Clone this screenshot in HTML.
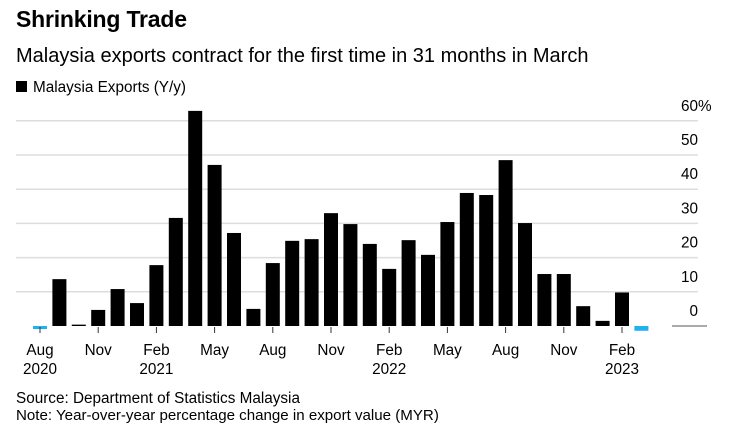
<!DOCTYPE html>
<html><head><meta charset="utf-8"><style>
body{margin:0;background:#fff;font-family:"Liberation Sans",sans-serif;}
#wrap{position:relative;width:737px;height:436px;overflow:hidden;}
.t{position:absolute;white-space:nowrap;color:#000;}
</style></head><body>
<div id="wrap">
<div class="t" style="left:16px;top:6px;font-size:23px;font-weight:bold;letter-spacing:-0.2px">Shrinking Trade</div>
<div class="t" style="left:16px;top:45px;font-size:20px">Malaysia exports contract for the first time in 31 months in March</div>
<div class="t" style="left:16px;top:79px;font-size:15.3px"><span style="display:inline-block;width:11px;height:11px;background:#000;margin-right:6px"></span>Malaysia Exports (Y/y)</div>
<svg id="chart" width="737" height="436" style="position:absolute;left:0;top:0"></svg>
<div class="t" style="left:16px;top:390px;font-size:15.3px">Source: Department of Statistics Malaysia</div>
<div class="t" style="left:16px;top:407px;font-size:15.1px">Note: Year-over-year percentage change in export value (MYR)</div>
</div>
<script>
const months=["Aug 2020","Sep 2020","Oct 2020","Nov 2020","Dec 2020","Jan 2021","Feb 2021","Mar 2021","Apr 2021","May 2021","Jun 2021","Jul 2021","Aug 2021","Sep 2021","Oct 2021","Nov 2021","Dec 2021","Jan 2022","Feb 2022","Mar 2022","Apr 2022","May 2022","Jun 2022","Jul 2022","Aug 2022","Sep 2022","Oct 2022","Nov 2022","Dec 2022","Jan 2023","Feb 2023","Mar 2023"];
const values=[-0.8,13.7,0.4,4.7,10.8,6.7,17.8,31.6,62.9,47.1,27.2,5,18.4,24.9,25.4,33,29.8,24,16.7,25.1,20.8,30.4,38.9,38.3,48.5,30.1,15.2,15.2,5.8,1.5,9.8,-1.4];
const yTicks=[0,10,20,30,40,50,60];
const xLabels=[[0,"Aug","2020"],[3,"Nov",""],[6,"Feb","2021"],[9,"May",""],[12,"Aug",""],[15,"Nov",""],[18,"Feb","2022"],[21,"May",""],[24,"Aug",""],[27,"Nov",""],[30,"Feb","2023"]];
const svg=document.getElementById('chart');const NS="http://www.w3.org/2000/svg";
const y=v=>326-v*3.42;const x=i=>40+i*19.4;
function mk(t,a){const e=document.createElementNS(NS,t);for(const k in a)e.setAttribute(k,a[k]);svg.appendChild(e);return e;}
yTicks.forEach(v=>{
 if(v>0){const l=mk('line',{x1:16,x2:698,y1:y(v),y2:y(v),stroke:'#ddd','stroke-width':1.5});
 
 }
 const t=mk('text',{x:698,y:y(v)-10,'font-size':15.3,'text-anchor':'end','font-family':'Liberation Sans, sans-serif'});
 t.textContent=v;
 
 
 if(v===60){const p=mk('text',{x:698,y:y(v)-10,'font-size':15.3,'font-family':'Liberation Sans, sans-serif'});
 p.textContent='%';
 
 }
});
const zl=mk('line',{x1:672,x2:707,y1:326,y2:326,stroke:'#555','stroke-width':1});


values.forEach((v,i)=>{
 const r=mk('rect',{x:x(i)-7,width:14,y:v>=0?y(v):326,height:Math.max(Math.abs(y(v)-326),v>=0?1:3),fill:v>=0?'#000':'#1fb1f0'});
 
 
});
xLabels.forEach(([i,m,yr])=>{
 const tk=mk('line',{x1:x(i),x2:x(i),y1:327,y2:333,stroke:'#333','stroke-width':1});
 
 
 const t=mk('text',{x:x(i),y:355,'font-size':15.3,'text-anchor':'middle','font-family':'Liberation Sans, sans-serif'});
 t.textContent=m;
 
 
 if(yr){const t2=mk('text',{x:x(i),y:374,'font-size':15.3,'text-anchor':'middle','font-family':'Liberation Sans, sans-serif'});
 t2.textContent=yr;
 
 }
});
</script>
</body></html>
